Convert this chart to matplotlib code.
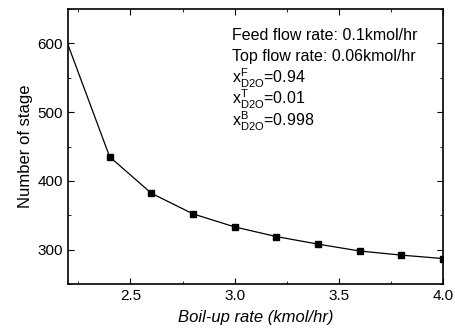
import matplotlib
matplotlib.use("Agg")
import matplotlib.pyplot as plt
from matplotlib.ticker import MultipleLocator

# dados
boilup = [2.2, 2.4, 2.6, 2.8, 3.0, 3.2, 3.4, 3.6, 3.8, 4.0]
stages = [598, 435, 382, 352, 333, 319, 308, 298, 292, 287]

info_lines = [
    "Feed flow rate: 0.1kmol/hr",
    "Top flow rate: 0.06kmol/hr",
    r"x$^{F}_{D2O}$=0.94",
    r"x$^{T}_{D2O}$=0.01",
    r"x$^{B}_{D2O}$=0.998",
]

plt.rcParams["font.family"] = ["Liberation Sans", "DejaVu Sans"]
plt.rcParams["mathtext.default"] = "regular"

fig = plt.figure(figsize=(4.56, 3.36), dpi=100)
ax = fig.add_axes([68 / 456, 1 - 284 / 336, 375 / 456, 275 / 336])

ax.plot(boilup, stages, color="black", lw=0.9, marker="s", ms=4.5,
        markevery=list(range(1, len(boilup))))

ax.set_xlim(2.2, 4.0)
ax.set_ylim(250, 650)
ax.xaxis.set_major_locator(MultipleLocator(0.5))
ax.xaxis.set_minor_locator(MultipleLocator(0.25))
ax.yaxis.set_major_locator(MultipleLocator(100))
ax.yaxis.set_minor_locator(MultipleLocator(50))
ax.set_xticks([2.5, 3.0, 3.5, 4.0])
ax.tick_params(which="both", direction="in", top=True, right=True, labelsize=11)
ax.tick_params(which="major", length=4)
ax.tick_params(which="minor", length=2.5)
for s in ax.spines.values():
    s.set_linewidth(1.2)

ax.set_xlabel("Boil-up rate (kmol/hr)", fontsize=12, style="italic", labelpad=5)
ax.set_ylabel("Number of stage", fontsize=12, labelpad=3)

y0 = 35
for i, linha in enumerate(info_lines):
    ax.text(232 / 456, 1 - (y0 + i * 21.5) / 336, linha, transform=fig.transFigure,
            fontsize=11.5, va="center", ha="left")

fig.savefig("out.png", dpi=100)
